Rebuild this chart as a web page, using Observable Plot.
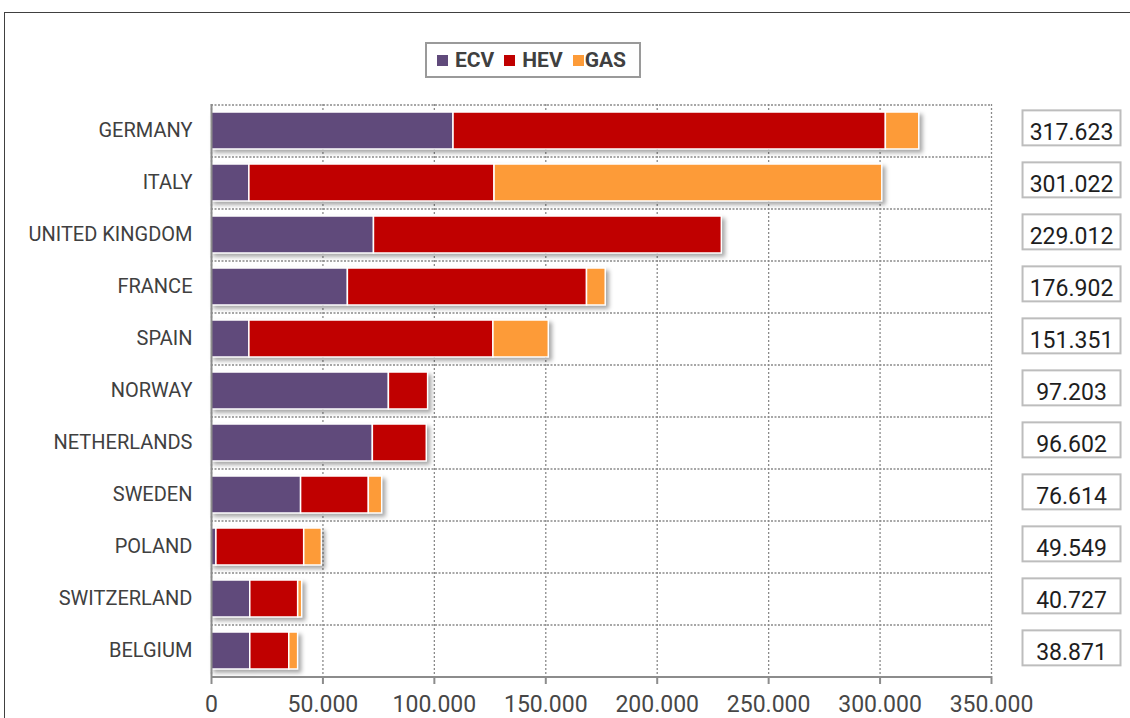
<!DOCTYPE html>
<html><head><meta charset="utf-8">
<script src="https://cdn.jsdelivr.net/npm/d3@7"></script>
<script src="https://cdn.jsdelivr.net/npm/@observablehq/plot@0.6"></script>
<style>
body{margin:0;background:#fff;font-family:Roboto,sans-serif;}
#wrap{position:relative;width:1130px;height:718px;overflow:hidden;background:#fff;}
#frame{position:absolute;left:4px;top:12px;width:1200px;height:800px;border-top:1.5px solid #404040;border-left:1.5px solid #404040;}
#chart{position:absolute;left:0;top:0;}
#legend{position:absolute;left:425px;top:42px;width:212px;height:32px;border:2px solid #9a9a9a;background:#fff;display:flex;align-items:center;font:bold 21px Roboto,sans-serif;color:#404040;}
#legend .sw{display:inline-block;width:11px;height:11px;margin-right:6px;}
#legend .it{display:flex;align-items:center;}
</style></head>
<body>
<div id="wrap"><div id="frame"></div><div id="chart"></div><div id="legend"></div></div>
<script>
const countries = ["GERMANY","ITALY","UNITED KINGDOM","FRANCE","SPAIN","NORWAY","NETHERLANDS","SWEDEN","POLAND","SWITZERLAND","BELGIUM"];
const seriesNames = ["ECV","HEV","GAS"];
const seriesColors = ["#604A7B","#C00000","#FD9B38"];
const ecv = [108600,17000,72900,61200,17000,79600,72400,40200,2200,17400,17400];
const hev = [194000,110000,156100,107300,109500,17600,24200,30400,39400,21500,17500];
const gas = [15000,174000,0,8400,24850,0,0,6000,7950,1800,3970];
const totals = [317623,301022,229012,176902,151351,97203,96602,76614,49549,40727,38871];
const totalLabels = ["317.623","301.022","229.012","176.902","151.351","97.203","96.602","76.614","49.549","40.727","38.871"];
const xTicks = [0,50000,100000,150000,200000,250000,300000,350000];
const xTickLabels = ["0","50.000","100.000","150.000","200.000","250.000","300.000","350.000"];

const W = 1130, H = 718, plotTop = 104, plotBottom = 676, plotLeft = 211, plotRight = 991;
const step = (plotBottom - plotTop) / countries.length;

const rows = [];
countries.forEach((c, i) => {
  [ecv, hev, gas].forEach((arr, k) => rows.push({country: c, series: seriesNames[k], value: arr[i]}));
});

const chart = Plot.plot({
  width: W, height: H,
  marginTop: plotTop, marginBottom: H - plotBottom, marginLeft: plotLeft, marginRight: W - plotRight,
  style: {fontFamily: "Roboto, sans-serif", fontSize: "23px", color: "#474747", background: "transparent", overflow: "visible"},
  x: {domain: [0, 350000], ticks: xTicks, tickSize: 8, tickPadding: 11, label: null,
      tickFormat: d => xTickLabels[xTicks.indexOf(d)]},
  y: {domain: countries, paddingInner: 0.29, paddingOuter: 0.145, axis: null},
  color: {domain: seriesNames, range: seriesColors},
  marks: [
    Plot.ruleX(xTicks, {stroke: "#8a8a8a", strokeWidth: 1.3, strokeDasharray: "2,2"}),
    Plot.ruleY(countries, {y: d => d, stroke: "#8a8a8a", strokeWidth: 1.6, strokeDasharray: "2,1.5", dy: -step / 2}),
    Plot.barX(rows, Plot.stackX({x: "value", y: "country", fill: "series", order: seriesNames, stroke: "#fff", strokeWidth: 1.5})),
    Plot.ruleX([0], {stroke: "#8c8c8c", strokeWidth: 2}),
    Plot.ruleY([countries[countries.length - 1]], {y: d => d, stroke: "#8c8c8c", strokeWidth: 2, dy: step / 2}),
    Plot.text(countries, {y: d => d, text: d => d, frameAnchor: "left", textAnchor: "end", dx: -19, fontSize: 20, fill: "#404040"}),
    Plot.text(countries, {y: d => d, text: (d, i) => totalLabels[i], frameAnchor: "right", textAnchor: "middle", dx: 80, dy: 2, fontSize: 23, fill: "#1e1e1e"})
  ]
});
document.getElementById("chart").appendChild(chart);

// x-axis tick marks in gray
chart.querySelectorAll('g[aria-label^="x-axis"] path, g[aria-label^="x-axis"] line').forEach(el => {
  el.setAttribute("stroke", "#8c8c8c");
  el.setAttribute("stroke-width", 2);
  el.style.stroke = "#8c8c8c";
});

const barG = chart.querySelector('g[aria-label="bar"]');
if (barG) barG.style.filter = "drop-shadow(3px 3px 2px rgba(0,0,0,0.35))";

// boxes around totals
const textGroups = Array.from(chart.querySelectorAll('g[aria-label="text"]'));
const totalsG = textGroups[textGroups.length - 1];
const svgRect = chart.getBoundingClientRect();
const boxG = document.createElementNS("http://www.w3.org/2000/svg", "g");
totalsG.parentNode.insertBefore(boxG, totalsG);
Array.from(totalsG.querySelectorAll("text")).forEach(t => {
  const b = t.getBoundingClientRect();
  const cx = b.left - svgRect.left + b.width / 2, cy = b.top - svgRect.top + b.height / 2;
  const r = document.createElementNS("http://www.w3.org/2000/svg", "rect");
  r.setAttribute("x", cx - 49); r.setAttribute("y", cy - 5 - 17.5);
  r.setAttribute("width", 98); r.setAttribute("height", 35);
  r.setAttribute("fill", "#fff"); r.setAttribute("stroke", "#bdbdbd"); r.setAttribute("stroke-width", 2);
  boxG.appendChild(r);
});

// legend
const leg = document.getElementById("legend");
seriesNames.forEach((s, i) => {
  const it = document.createElement("span");
  it.className = "it";
  it.style.marginLeft = "10px";
  const sw = document.createElement("span");
  sw.className = "sw"; sw.style.background = seriesColors[i];
  sw.style.marginRight = i === 2 ? "1px" : "7px";
  it.appendChild(sw);
  it.appendChild(document.createTextNode(s));
  leg.appendChild(it);
});
</script>
</body></html>
